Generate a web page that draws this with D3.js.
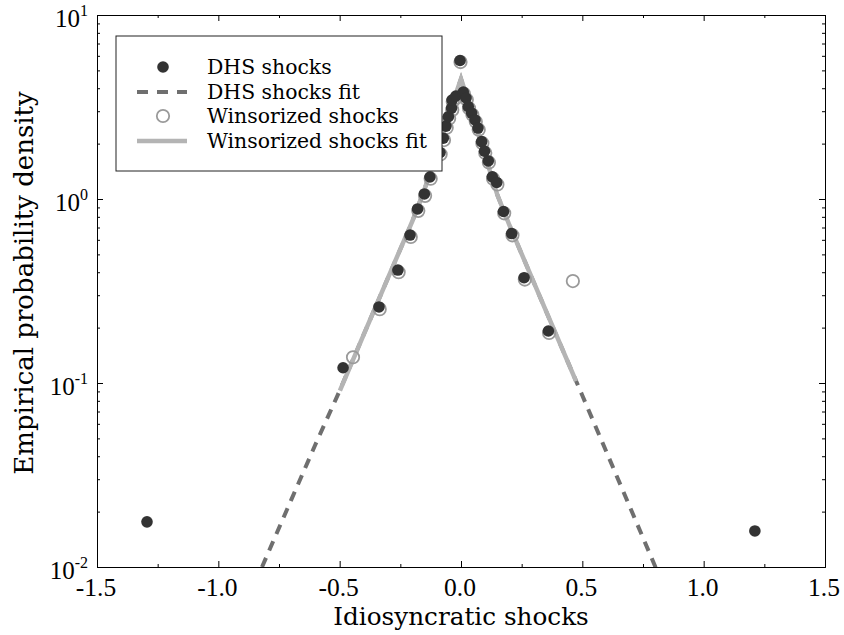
<!DOCTYPE html>
<html>
<head>
<meta charset="utf-8">
<script src="https://cdn.jsdelivr.net/npm/d3@7"></script>
<style>
  body { margin: 0; background: #fff; }
  svg { display: block; }
  .axis path, .axis line { stroke: #000; }
  text { font-family: 'Liberation Serif', 'Times New Roman', serif; fill: #000; }
  .words { font-family: 'DejaVu Serif', serif; }
</style>
</head>
<body>
<div class="chart"></div>
<script>
// DHS shocks (empirical density)
var dhsX = [-1.294, -0.486, -0.338, -0.260, -0.210, -0.179, -0.151, -0.128, -0.0865, -0.073, -0.062, -0.052,
  -0.039, -0.037, -0.021, -0.004, 0.0095, 0.021, 0.030, 0.044, 0.058, 0.070, 0.085, 0.097, 0.1125, 0.129,
  0.147, 0.175, 0.209, 0.260, 0.360, 1.211];
var dhsY = [0.0176, 0.121, 0.259, 0.411, 0.637, 0.883, 1.065, 1.317, 1.789, 2.14, 2.49, 2.80,
  3.12, 3.45, 3.63, 5.66, 3.81, 3.54, 3.18, 2.93, 2.69, 2.43, 2.05, 1.82, 1.61, 1.32,
  1.23, 0.855, 0.649, 0.3735, 0.1917, 0.0157];

// Winsorized shocks
var winX = [-0.445, -0.335, -0.257, -0.207, -0.176, -0.148, -0.125, -0.084, -0.070, -0.059, -0.049, -0.036,
  -0.034, -0.018, -0.002, 0.012, 0.024, 0.033, 0.047, 0.061, 0.073, 0.088, 0.100, 0.115, 0.132, 0.150,
  0.178, 0.212, 0.263, 0.363, 0.461];
var winY = [0.138, 0.252, 0.400, 0.622, 0.862, 1.04, 1.29, 1.75, 2.09, 2.44, 2.74, 3.05,
  3.38, 3.55, 5.55, 3.73, 3.46, 3.11, 2.87, 2.63, 2.38, 2.01, 1.78, 1.58, 1.29, 1.20,
  0.836, 0.635, 0.365, 0.187, 0.358];

// fitted densities
var dhsFitX = [-0.82, -0.7, -0.6, -0.5, -0.4, -0.3, -0.2, -0.15, -0.1, -0.05, -0.02, 0,
  0.02, 0.05, 0.1, 0.15, 0.2, 0.3, 0.4, 0.5, 0.6, 0.7, 0.81];
var dhsFitY = [0.0100, 0.0231, 0.0463, 0.0908, 0.1845, 0.375, 0.760, 1.13, 1.795, 2.85, 3.77, 4.5,
  3.73, 2.79, 1.71, 1.05, 0.718, 0.352, 0.173, 0.0855, 0.0420, 0.0206, 0.0094];
var winFitX = [-0.499, -0.4, -0.3, -0.2, -0.15, -0.1, -0.05, -0.02, 0,
  0.02, 0.05, 0.1, 0.15, 0.2, 0.3, 0.4, 0.474];
var winFitY = [0.091, 0.1845, 0.375, 0.760, 1.13, 1.795, 2.85, 3.77, 4.5,
  3.73, 2.79, 1.71, 1.05, 0.718, 0.352, 0.173, 0.1025];

var xTicks = [-1.5, -1.0, -0.5, 0.0, 0.5, 1.0, 1.5];
var xMinor = [-1.25, -0.75, -0.25, 0.25, 0.75, 1.25];
var yTicks = [0.01, 0.1, 1, 10];
var yExp = ['-2', '-1', '0', '1'];

var legendLabels = ['DHS shocks', 'DHS shocks fit', 'Winsorized shocks', 'Winsorized shocks fit'];

(function () {
  'use strict';

  var W = 844, H = 635;
  var left = 97, right = 825, top = 15, bottom = 567;

  var dark = '#333333', dashGrey = '#6f6f6f', lightGrey = '#b4b4b4', ringGrey = '#9a9a9a';

  var yMinor = [];
  yTicks.slice(0, 3).forEach(function (t) {
    for (var k = 2; k < 10; k++) { yMinor.push(t * k); }
  });

  var x = d3.scaleLinear().domain([-1.5, 1.5]).range([left, right]);
  var y = d3.scaleLog().domain([0.01, 10]).range([bottom, top]);

  var svg = d3.select('.chart')
      .append('svg')
      .attr('width', W)
      .attr('height', H);

  svg.append('defs').append('clipPath')
     .attr('id', 'plot')
     .append('rect')
     .attr('x', left).attr('y', top)
     .attr('width', right - left).attr('height', bottom - top);

  var plot = svg.append('g').attr('clip-path', 'url(#plot)');

  var line = d3.line()
      .x(function (d) { return x(d[0]); })
      .y(function (d) { return y(d[1]); });

  plot.append('path')
      .datum(d3.zip(dhsFitX, dhsFitY))
      .attr('d', line)
      .attr('fill', 'none')
      .attr('stroke', dashGrey)
      .attr('stroke-width', 4)
      .attr('stroke-dasharray', '10,8');

  plot.append('path')
      .datum(d3.zip(winFitX, winFitY))
      .attr('d', line)
      .attr('fill', 'none')
      .attr('stroke', lightGrey)
      .attr('stroke-width', 4.5);

  plot.selectAll('.win')
      .data(d3.zip(winX, winY))
      .enter()
      .append('circle')
      .attr('class', 'win')
      .attr('cx', function (d) { return x(d[0]); })
      .attr('cy', function (d) { return y(d[1]); })
      .attr('r', 6.2)
      .attr('fill', 'none')
      .attr('stroke', ringGrey)
      .attr('stroke-width', 1.8);

  plot.selectAll('.dhs')
      .data(d3.zip(dhsX, dhsY))
      .enter()
      .append('circle')
      .attr('class', 'dhs')
      .attr('cx', function (d) { return x(d[0]); })
      .attr('cy', function (d) { return y(d[1]); })
      .attr('r', 5.8)
      .attr('fill', dark);

  // axes, ticks pointing inward on all four sides
  function ticks(axis, pos, vals, size) {
    return svg.append('g')
       .attr('class', 'axis')
       .attr('transform', pos)
       .call(axis.tickValues(vals).tickSizeInner(-size).tickSizeOuter(0).tickFormat(''));
  }

  ticks(d3.axisBottom(x), 'translate(0,' + bottom + ')', xTicks, 6);
  ticks(d3.axisBottom(x), 'translate(0,' + bottom + ')', xMinor, 3);
  ticks(d3.axisTop(x), 'translate(0,' + top + ')', xTicks, 6);
  ticks(d3.axisTop(x), 'translate(0,' + top + ')', xMinor, 3);
  ticks(d3.axisLeft(y), 'translate(' + left + ',0)', yTicks, 6);
  ticks(d3.axisLeft(y), 'translate(' + left + ',0)', yMinor, 3);
  ticks(d3.axisRight(y), 'translate(' + right + ',0)', yTicks, 6);
  ticks(d3.axisRight(y), 'translate(' + right + ',0)', yMinor, 3);

  svg.selectAll('.axis text').remove();

  svg.selectAll('.xlab')
     .data(xTicks)
     .enter()
     .append('text')
     .attr('class', 'xlab')
     .attr('x', function (d) { return x(d) - 1; })
     .attr('y', bottom + 29)
     .attr('text-anchor', 'middle')
     .style('font-size', '25.5px')
     .text(function (d) { return d.toFixed(1); });

  var ylab = svg.selectAll('.ylab')
     .data(yTicks)
     .enter()
     .append('text')
     .attr('class', 'ylab')
     .attr('x', left - 9)
     .attr('y', function (d) { return y(d) + 12; })
     .attr('text-anchor', 'end')
     .style('font-size', '25px');

  ylab.append('tspan').text('10');
  ylab.append('tspan')
      .attr('dy', -11)
      .style('font-size', '16px')
      .text(function (d, i) { return yExp[i]; });

  svg.append('text')
     .attr('class', 'words')
     .attr('x', (left + right) / 2)
     .attr('y', 625)
     .attr('text-anchor', 'middle')
     .style('font-size', '24.7px')
     .text('Idiosyncratic shocks');

  svg.append('text')
     .attr('class', 'words')
     .attr('transform', 'translate(33,' + ((top + bottom) / 2 - 8) + ') rotate(-90)')
     .attr('text-anchor', 'middle')
     .style('font-size', '26px')
     .text('Empirical probability density');

  // legend
  var lg = svg.append('g');
  lg.append('rect')
    .attr('x', 116).attr('y', 36)
    .attr('width', 326).attr('height', 135)
    .attr('fill', '#fff')
    .attr('stroke', '#222')
    .attr('stroke-width', 1);

  var rowY = [67, 92, 116, 141];
  lg.append('circle').attr('cx', 163).attr('cy', rowY[0]).attr('r', 5.8).attr('fill', dark);
  lg.append('line')
    .attr('x1', 137).attr('x2', 187).attr('y1', rowY[1]).attr('y2', rowY[1])
    .attr('stroke', dashGrey).attr('stroke-width', 4).attr('stroke-dasharray', '11,9');
  lg.append('circle').attr('cx', 163).attr('cy', rowY[2]).attr('r', 6.2)
    .attr('fill', 'none').attr('stroke', ringGrey).attr('stroke-width', 1.8);
  lg.append('line')
    .attr('x1', 137).attr('x2', 187).attr('y1', rowY[3]).attr('y2', rowY[3])
    .attr('stroke', lightGrey).attr('stroke-width', 4.5);

  lg.selectAll('.ltext')
    .data(legendLabels)
    .enter()
    .append('text')
    .attr('class', 'words')
    .attr('x', 207)
    .attr('y', function (d, i) { return rowY[i] + 7; })
    .style('font-size', '20.4px')
    .text(function (d) { return d; });
}());
</script>
</body>
</html>
